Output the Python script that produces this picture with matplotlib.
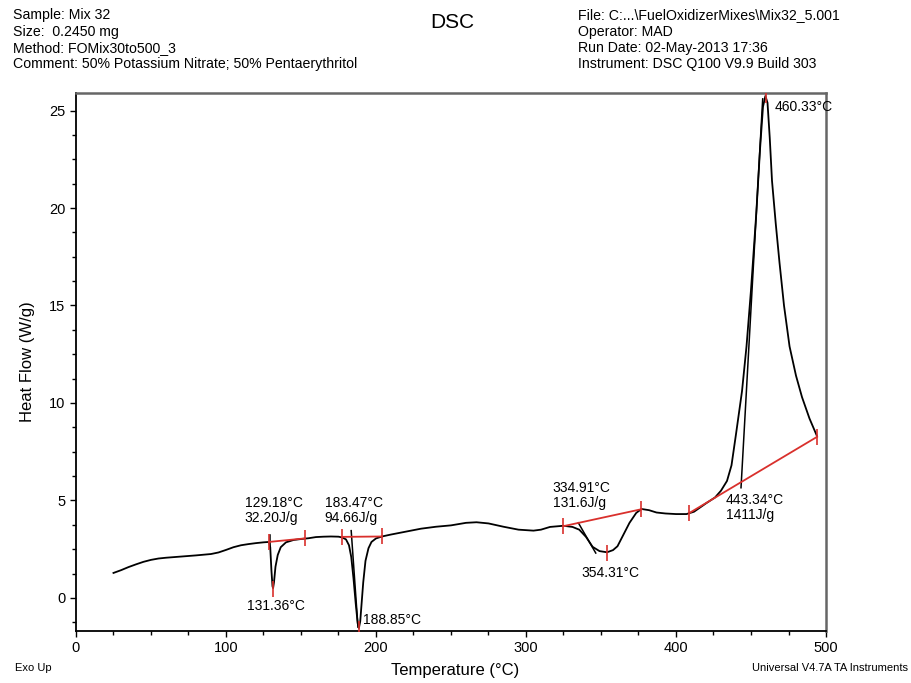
import numpy as np
import matplotlib
matplotlib.use("Agg")
import matplotlib.pyplot as plt
from matplotlib.ticker import MultipleLocator

plt.rcParams["font.family"] = ["Liberation Sans", "DejaVu Sans"]

# DSC trace: temperature (°C) and heat flow (W/g)
temperature = [
    25, 30, 35, 40, 45, 50, 55, 60, 70, 80, 90, 95, 100, 105, 110, 115, 120,
    125, 128.6, 129.5, 130.3, 131.0, 131.4, 132.0, 133.0, 134.5, 136.5, 140,
    145, 150, 155, 160, 165, 170, 175, 177.5, 180, 182, 183.5, 185, 186.5,
    187.8, 188.6, 189.5, 190.5, 191.5, 193, 195, 197, 200, 204, 210, 220, 230,
    240, 250, 260, 267, 275, 285, 295, 305, 310, 316, 325, 331, 335.5, 340,
    344.4, 349, 354, 358, 361, 364, 369, 373.5, 377, 382, 387, 393, 400, 407,
    412, 420, 426, 430, 434, 437, 440, 444, 447, 450, 453.5, 456, 458, 459.6,
    461, 462.5, 464, 466.5, 469, 472, 475.7, 480, 484, 489, 494,
]
heat_flow = [
    1.28, 1.42, 1.58, 1.72, 1.85, 1.95, 2.02, 2.06, 2.12, 2.18, 2.25, 2.33,
    2.46, 2.6, 2.7, 2.76, 2.81, 2.85, 2.87, 2.6, 1.4, 0.6, 0.5, 0.8, 1.6, 2.2,
    2.6, 2.85, 2.97, 3.02, 3.06, 3.12, 3.14, 3.15, 3.14, 3.1, 3.0, 2.7, 2.1,
    1.0, -0.3, -1.3, -1.55, -1.2, -0.2, 0.8, 1.9, 2.55, 2.87, 3.05, 3.15, 3.25,
    3.4, 3.55, 3.65, 3.72, 3.85, 3.88, 3.82, 3.65, 3.5, 3.45, 3.5, 3.64, 3.7,
    3.64, 3.5, 3.13, 2.62, 2.4, 2.34, 2.45, 2.65, 3.1, 3.85, 4.36, 4.56, 4.5,
    4.38, 4.33, 4.3, 4.3, 4.42, 4.85, 5.15, 5.5, 6.0, 6.8, 8.4, 10.6, 12.9,
    15.8, 19.7, 23.0, 25.2, 25.75, 25.4, 23.6, 21.4, 19.2, 17.2, 15.0, 12.9,
    11.4, 10.3, 9.2, 8.3,
]

# integration baselines (start, end) for each transition
baseline_t = [(128.6, 152.4), (177.2, 203.8), (325.0, 377.0), (409.0, 494.0)]
baseline_hf = [(2.87, 3.05), (3.13, 3.15), (3.68, 4.55), (4.36, 8.26)]

# peak temperatures and their heat flow
peak_t = [131.36, 188.85, 354.31, 460.33]
peak_hf = [0.45, -1.6, 2.3, 25.8]

# onset tangent lines (black)
tangent_t = [(129.18, 129.18), (183.47, 188.0), (334.91, 346.5), (443.34, 457.8)]
tangent_hf = [(3.25, 2.55), (3.45, -1.5), (3.85, 2.3), (5.65, 25.6)]

# annotation texts
onset_labels = ["129.18°C\n32.20J/g", "183.47°C\n94.66J/g",
                "334.91°C\n131.6J/g", "443.34°C\n1411J/g"]
onset_pos = [(112.5, 3.75), (165.9, 3.75), (317.8, 4.5), (433.0, 3.9)]
peak_labels = ["131.36°C", "188.85°C", "354.31°C", "460.33°C"]
peak_pos = [(113.8, -0.4), (191.2, -1.13), (337.0, 1.28), (465.6, 25.2)]

header_left = ["Sample: Mix 32", "Size:  0.2450 mg", "Method: FOMix30to500_3",
               "Comment: 50% Potassium Nitrate; 50% Pentaerythritol"]
header_right = ["File: C:...\\FuelOxidizerMixes\\Mix32_5.001", "Operator: MAD",
                "Run Date: 02-May-2013 17:36", "Instrument: DSC Q100 V9.9 Build 303"]

red = "#d9302c"

fig = plt.figure(figsize=(9.11, 6.83), dpi=100)
ax = fig.add_axes([0.0834, 0.0761, 0.8233, 0.7877])

ax.plot(temperature, heat_flow, color="black", lw=1.3, zorder=3)

for (t0, t1), (h0, h1) in zip(baseline_t, baseline_hf):
    ax.plot([t0, t1], [h0, h1], color=red, lw=1.3, zorder=4)
    ax.plot([t0, t1], [h0, h1], ls="none", marker="|", ms=11, mew=1.2,
            color=red, zorder=5)

for (t0, t1), (h0, h1) in zip(tangent_t, tangent_hf):
    ax.plot([t0, t1], [h0, h1], color="black", lw=1.1, zorder=3)

ax.plot(peak_t, peak_hf, ls="none", marker="|", ms=12, mew=1.2,
        color=red, zorder=5)

for txt, (x, y) in zip(onset_labels, onset_pos):
    ax.text(x, y, txt, fontsize=10, ha="left", va="bottom", linespacing=1.1)
for txt, (x, y) in zip(peak_labels, peak_pos):
    ax.text(x, y, txt, fontsize=10, ha="left", va="center")

ax.set_xlim(0, 500)
ax.set_ylim(-1.7, 25.9)
ax.xaxis.set_major_locator(MultipleLocator(100))
ax.xaxis.set_minor_locator(MultipleLocator(25))
ax.yaxis.set_major_locator(MultipleLocator(5))
ax.yaxis.set_minor_locator(MultipleLocator(1.25))
ax.tick_params(which="both", direction="out", width=1, labelsize=10.5,
               top=False, right=False)
ax.tick_params(which="major", length=4.5, pad=3)
ax.tick_params(which="minor", length=3)

for side in ["left", "bottom"]:
    ax.spines[side].set_linewidth(1.3)
    ax.spines[side].set_color("black")
for side in ["top", "right"]:
    ax.spines[side].set_linewidth(1.8)
    ax.spines[side].set_color("#666666")

ax.set_ylabel("Heat Flow (W/g)", fontsize=12, labelpad=10)
fig.text(455 / 911, 1 - 671 / 683, "Temperature (°C)", fontsize=12,
         ha="center", va="center")

fig.text(452 / 911, 1 - 22 / 683, "DSC", fontsize=15, ha="center", va="center")
for i, line in enumerate(header_left):
    fig.text(13 / 911, 1 - (19.5 + 16.3 * i) / 683, line, fontsize=10.2,
             va="baseline")
for i, line in enumerate(header_right):
    fig.text(578 / 911, 1 - (19.5 + 16.3 * i) / 683, line, fontsize=10.2,
             va="baseline")

fig.text(15 / 911, 1 - 668 / 683, "Exo Up", fontsize=8, va="center")
fig.text(908 / 911, 1 - 668 / 683, "Universal V4.7A TA Instruments",
         fontsize=8, ha="right", va="center")

fig.savefig("out.png", dpi=100)
